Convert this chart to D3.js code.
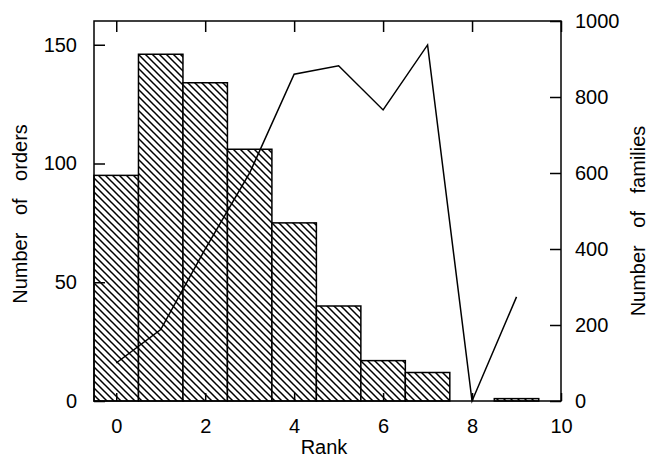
<!DOCTYPE html>
<html>
<head>
<meta charset="utf-8">
<script src="https://cdn.jsdelivr.net/npm/d3@7"></script>
<style>
  body { margin: 0; background: #fff; }
  text { font-family: "Liberation Sans", Arial, sans-serif; fill: #000; }
</style>
</head>
<body>
<div id="chart"></div>
<script>
// rank on the x axis, bars = orders (left axis), line = families (right axis)
const ranks = [0, 1, 2, 3, 4, 5, 6, 7, 8, 9];
const orders = [95, 146, 134, 106, 75, 40, 17, 12, 0, 1];
const families = [100, 188, 400, 600, 860, 882, 766, 937, 0, 274];

const xTicks = [0, 2, 4, 6, 8, 10];
const leftTicks = [0, 50, 100, 150];
const rightTicks = [0, 200, 400, 600, 800, 1000];

const width = 650;
const height = 458;
const plotL = 94, plotR = 561, plotT = 21, plotB = 401;

const svg = d3.select("#chart").append("svg")
  .attr("width", width)
  .attr("height", height);

const x = d3.scaleLinear().domain([-0.5, 10]).range([plotL, plotR]);
const y = d3.scaleLinear().domain([0, 160]).range([plotB, plotT]);
const y2 = d3.scaleLinear().domain([0, 1000]).range([plotB, plotT]);

// diagonal hatch
const pat = svg.append("defs").append("pattern")
  .attr("id", "hatch")
  .attr("patternUnits", "userSpaceOnUse")
  .attr("width", 7)
  .attr("height", 7);
pat.append("rect").attr("width", 7).attr("height", 7).attr("fill", "#fff");
pat.append("path")
  .attr("d", "M-1,-1L8,8M-1,6L1,8M6,-1L8,1")
  .attr("stroke", "#000")
  .attr("stroke-width", 1.5);

// bars
svg.selectAll("rect.bar")
  .data(ranks)
  .join("rect")
  .attr("class", "bar")
  .attr("x", d => x(d - 0.5))
  .attr("y", (d, i) => y(orders[i]))
  .attr("width", x(1) - x(0))
  .attr("height", (d, i) => y(0) - y(orders[i]))
  .attr("fill", "url(#hatch)")
  .attr("stroke", "#000")
  .attr("stroke-width", 1.5);

// families line
svg.append("path")
  .datum(ranks)
  .attr("fill", "none")
  .attr("stroke", "#000")
  .attr("stroke-width", 1.5)
  .attr("d", d3.line().x(d => x(d)).y((d, i) => y2(families[i])));

// axes, ticks pointing inward
function styleAxis(g) {
  g.select(".domain").remove();
  g.selectAll(".tick line").attr("stroke", "#000").attr("stroke-width", 1.5);
  g.selectAll(".tick text").attr("font-size", 20);
}

svg.append("g")
  .attr("transform", `translate(${plotL},0)`)
  .call(d3.axisLeft(y).tickValues(leftTicks).tickSize(-11).tickPadding(17))
  .call(styleAxis);

svg.append("g")
  .attr("transform", `translate(${plotR},0)`)
  .call(d3.axisRight(y2).tickValues(rightTicks).tickFormat(d3.format("d"))
    .tickSize(-11).tickPadding(14))
  .call(styleAxis);

svg.append("g")
  .attr("transform", `translate(0,${plotB})`)
  .call(d3.axisBottom(x).tickValues(xTicks).tickSize(-8).tickPadding(18))
  .call(styleAxis);

svg.append("g")
  .attr("transform", `translate(0,${plotT})`)
  .call(d3.axisTop(x).tickValues(xTicks).tickSize(-11).tickFormat(""))
  .call(styleAxis);

// frame
svg.append("rect")
  .attr("x", plotL).attr("y", plotT)
  .attr("width", plotR - plotL).attr("height", plotB - plotT)
  .attr("fill", "none")
  .attr("stroke", "#000")
  .attr("stroke-width", 1.5);

// titles
svg.append("text")
  .attr("x", 324).attr("y", 454)
  .attr("text-anchor", "middle")
  .attr("font-size", 20)
  .text("Rank");

svg.append("text")
  .attr("transform", "translate(27,214) rotate(-90)")
  .attr("text-anchor", "middle")
  .attr("font-size", 20)
  .attr("word-spacing", 12)
  .text("Number of orders");

svg.append("text")
  .attr("transform", "translate(645,221) rotate(-90)")
  .attr("text-anchor", "middle")
  .attr("font-size", 20)
  .attr("word-spacing", 12)
  .text("Number of families");
</script>
</body>
</html>
